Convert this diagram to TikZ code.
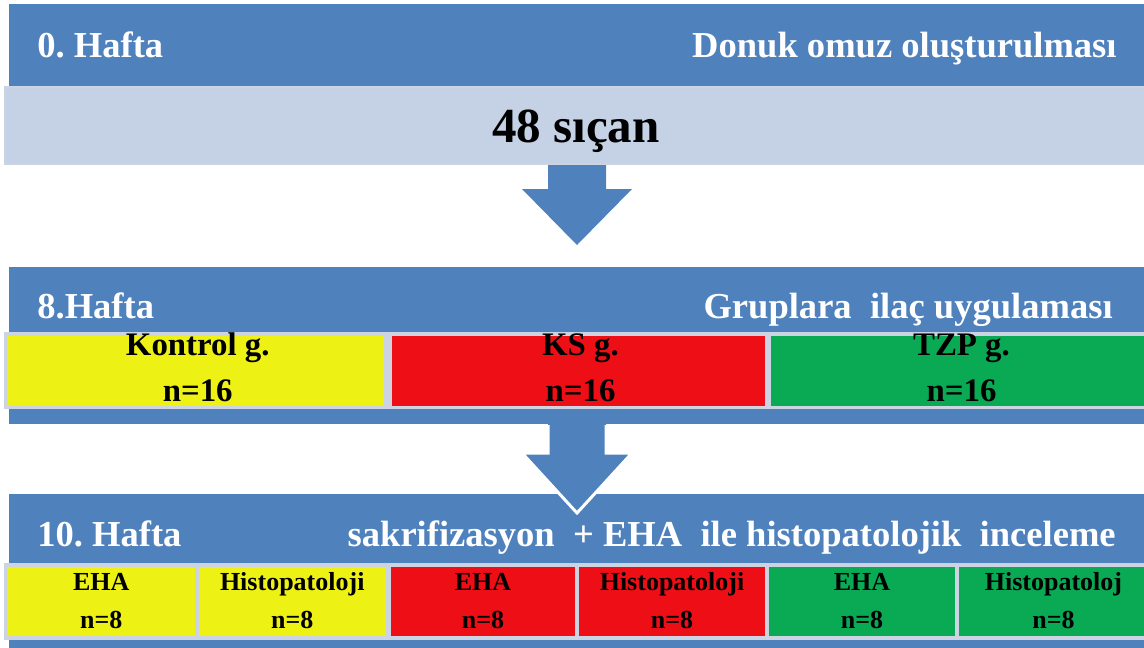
\documentclass[tikz,border=0pt]{standalone}
\usepackage{fontspec}
\setmainfont{Liberation Serif}
\frenchspacing
\definecolor{bandblue}{RGB}{79,129,189}
\definecolor{paleblue}{RGB}{197,209,228}
\definecolor{boxrim}{RGB}{204,212,228}
\definecolor{grpyellow}{RGB}{238,242,20}
\definecolor{grpred}{RGB}{237,14,22}
\definecolor{grpgreen}{RGB}{10,170,85}
\tikzset{
  weektext/.style={text=white, font=\bfseries\fontsize{20.8}{24}\selectfont, inner sep=0pt},
  grouptext/.style={font=\bfseries\fontsize{18.7}{22}\selectfont, inner sep=0pt},
  subtext/.style={font=\bfseries\fontsize{14.8}{18}\selectfont, inner sep=0pt},
  boxline/.style={draw=boxrim, line width=0.07cm}
}

\begin{document}
\begin{tikzpicture}[x=0.02cm,y=-0.02cm]
	\useasboundingbox (0,0) rectangle (1144,647);
	% blue bands
	\fill[bandblue] (9,4) rectangle (1150,86);
	\fill[bandblue] (9,267) rectangle (1150,424);
	\fill[bandblue] (9,494) rectangle (1150,650);
	% week 0
	\node [weektext, anchor=base west] (hafta0) at (37,57) {0. Hafta};
	\node [weektext, anchor=base east] (omuz) at (1117,57) {Donuk omuz oluşturulması};
	\filldraw[fill=paleblue, draw=boxrim, line width=0.04cm] (5,87) rectangle (1150,164);
	\node [font=\bfseries\fontsize{27.9}{32}\selectfont, inner sep=0pt, anchor=base] (sican) at (576,142) {48 sıçan};
	% arrow 1
	\fill[bandblue] (548,165) -- (548,189) -- (522,189) -- (577,245) -- (632,189) -- (606,189) -- (606,165) -- cycle;
	% week 8
	\node [weektext, anchor=base west] (hafta8) at (37,318) {8.Hafta};
	\node [weektext, anchor=base east] (ilac) at (1113,318) {Gruplara~~ilaç uygulaması};
	\foreach \name/\xa/\xb/\col/\lbl in
	{
		kontrol/5.5/386/grpyellow/Kontrol g.,
		ks/390/767/grpred/KS g.,
		tzp/769/1150/grpgreen/TZP g.
	}
	{
		\filldraw[boxline, fill=\col] (\xa,334) rectangle (\xb,407.5);
		\node [grouptext, anchor=base] (\name) at ({(\xa+\xb)/2+2},355) {\lbl};
		\node [grouptext, anchor=base] (\name-n) at ({(\xa+\xb)/2+2},401) {n=16};
	}
	% arrow 2
	\fill[bandblue] (548,422) -- (548,453) -- (522,453) -- (577,513) -- (632,453) -- (606,453) -- (606,422) -- cycle;
	\draw[white, line width=0.06cm, line join=miter] (548,425) -- (548,453) -- (522,453) -- (577,513) -- (632,453) -- (606,453) -- (606,425);
	% week 10
	\node [weektext, anchor=base west] (hafta10) at (37,546) {10. Hafta};
	\node [weektext, anchor=base east] (inceleme) at (1116,546) {sakrifizasyon~~+~EHA~~ile histopatolojik~~inceleme};
	\foreach \name/\xa/\xb/\col/\lbl in
	{
		ehaA/5.5/197/grpyellow/EHA,
		histA/197/387.5/grpyellow/Histopatoloji,
		ehaB/389/577/grpred/EHA,
		histB/577/767/grpred/Histopatoloji,
		ehaC/767/957/grpgreen/EHA,
		histC/957/1150/grpgreen/Histopatoloj
	}
	{
		\filldraw[boxline, fill=\col] (\xa,565) rectangle (\xb,638);
		\node [subtext, anchor=base] (\name) at ({(\xa+\xb)/2},590) {\lbl};
		\node [subtext, anchor=base] (\name-n) at ({(\xa+\xb)/2},628) {n=8};
	}
\end{tikzpicture}
\end{document}
